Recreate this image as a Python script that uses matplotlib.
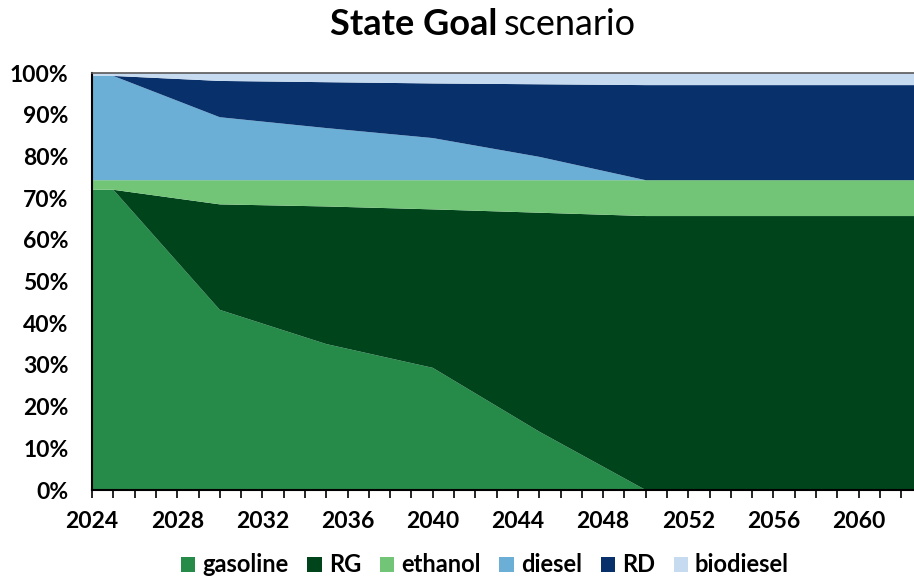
import matplotlib
matplotlib.use("Agg")
import matplotlib.pyplot as plt
from matplotlib.patches import Patch
from matplotlib.ticker import FixedLocator, PercentFormatter

plt.rcParams["font.family"] = ["Lato", "DejaVu Sans"]

# shares in percent
years = [2024, 2025, 2030, 2035, 2040, 2045, 2050, 2055, 2060, 2063]
gasoline = [72.0, 72.0, 43.2, 35.0, 29.3, 14.0, 0.0, 0.0, 0.0, 0.0]
rg = [0.0, 0.0, 25.3, 33.0, 38.0, 52.5, 65.7, 65.7, 65.7, 65.7]
ethanol = [2.3, 2.3, 5.8, 6.3, 7.0, 7.8, 8.6, 8.6, 8.6, 8.6]
diesel = [25.0, 25.0, 15.1, 12.5, 10.1, 5.6, 0.0, 0.0, 0.0, 0.0]
rd = [0.0, 0.0, 8.7, 11.0, 13.1, 17.4, 22.8, 22.8, 22.8, 22.8]
biodiesel = [0.7, 0.7, 1.9, 2.2, 2.5, 2.7, 2.9, 2.9, 2.9, 2.9]

labels = ["gasoline", "RG", "ethanol", "diesel", "RD", "biodiesel"]
colors = ["#268b49", "#00441c", "#72c476", "#6baed6", "#08306b", "#c6dbef"]

fig = plt.figure(figsize=(9.14, 5.79), dpi=100)
ax = fig.add_axes([0.1007, 0.1537, 0.8993, 0.7202])

ax.stackplot(years, gasoline, rg, ethanol, diesel, rd, biodiesel,
             colors=colors, linewidth=0)

ax.set_xlim(2024, 2062.6)
ax.set_ylim(0, 100)
ax.yaxis.set_major_locator(FixedLocator(range(0, 101, 10)))
ax.yaxis.set_major_formatter(PercentFormatter(decimals=0))
ax.xaxis.set_major_locator(FixedLocator(range(2024, 2063, 4)))
ax.xaxis.set_minor_locator(FixedLocator(range(2024, 2063, 1)))

ax.tick_params(axis="y", length=0, pad=17, labelsize=16.5)
ax.tick_params(axis="x", which="both", direction="out", length=6, width=1.2,
               color="black", pad=9, labelsize=16.5)
for lab in ax.get_xticklabels() + ax.get_yticklabels():
    lab.set_fontweight("bold")

ax.spines["left"].set_linewidth(1.5)
ax.spines["left"].set_color("black")
ax.spines["bottom"].set_linewidth(1.5)
ax.spines["bottom"].set_color("black")
ax.spines["top"].set_color("#595959")
ax.spines["top"].set_linewidth(1.2)
ax.spines["right"].set_visible(False)

fig.text(497 / 914, 0.957, "State Goal", ha="right", va="center",
         fontsize=26, fontweight="bold")
fig.text(504 / 914, 0.957, "scenario", ha="left", va="center", fontsize=26)

handles = [Patch(facecolor=c, edgecolor="none") for c in colors]
fig.legend(handles, labels, loc="center", bbox_to_anchor=(485 / 914, 1 - 565 / 579),
           ncol=6, frameon=False, handlelength=0.6, handleheight=0.6,
           handletextpad=0.3, columnspacing=0.8,
           prop={"size": 17, "weight": "bold"})

fig.savefig("out.png", dpi=100)
